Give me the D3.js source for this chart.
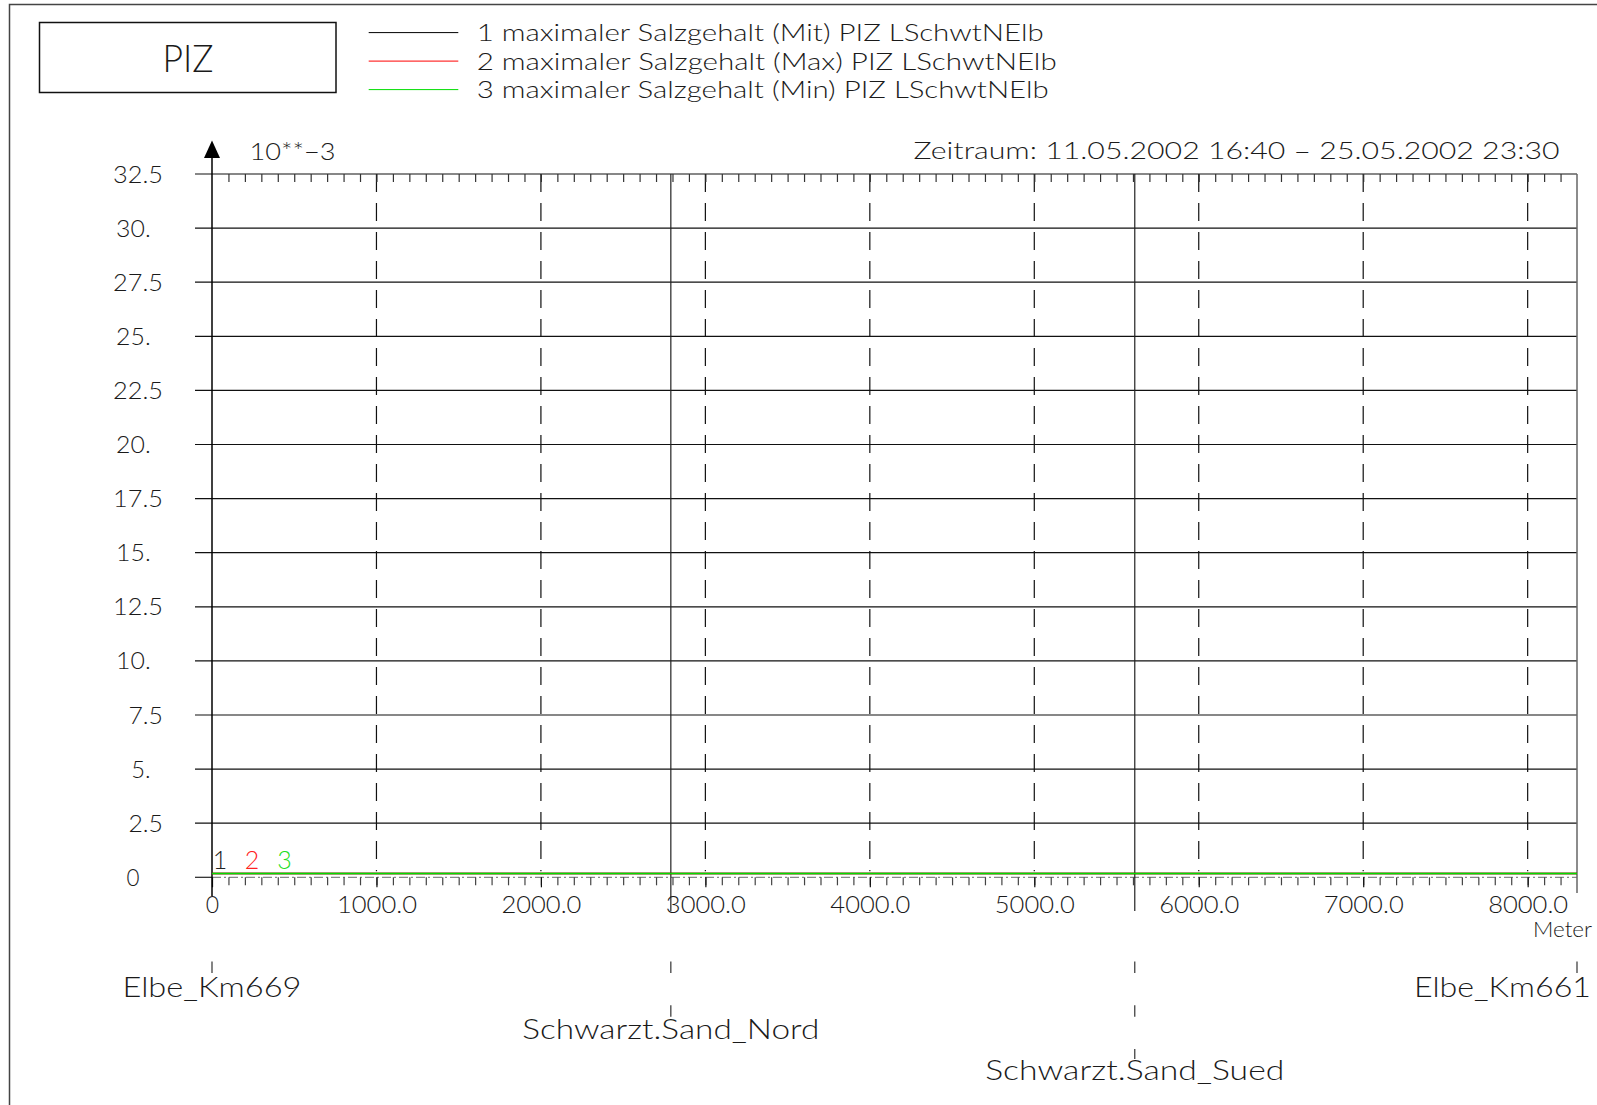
<!DOCTYPE html>
<html>
<head>
<meta charset="utf-8">
<script src="https://cdn.jsdelivr.net/npm/d3@7"></script>
<style>
  body { margin: 0; background: #fff; }
  text { font-family: "Lato", "DejaVu Sans", sans-serif; font-weight: 300; fill: #1a1a1a; }
</style>
</head>
<body>
<div id="wrapper"></div>
<script>
// Dados do grafico
const titulo = "PIZ";
const legendaTextos = [
  "1 maximaler Salzgehalt (Mit) PIZ LSchwtNElb",
  "2 maximaler Salzgehalt (Max) PIZ LSchwtNElb",
  "3 maximaler Salzgehalt (Min) PIZ LSchwtNElb"
];
const periodo = "Zeitraum: 11.05.2002 16:40 \u2013 25.05.2002 23:30";
const unidadeY = "10**\u22123";
const unidadeX = "Meter";

const estacoes = ["Elbe_Km669", "Schwarzt.Sand_Nord", "Schwarzt.Sand_Sued", "Elbe_Km661"];
const estacoesMetros = [0, 2790, 5611, 8300];

// valores (10**-3) nas estacoes
const serieMit = [0.18, 0.18, 0.18, 0.18];
const serieMax = [0.18, 0.18, 0.18, 0.18];
const serieMin = [0.18, 0.18, 0.18, 0.18];

const yTicks = [0, 2.5, 5, 7.5, 10, 12.5, 15, 17.5, 20, 22.5, 25, 27.5, 30, 32.5];
const yTickLabels = ["0", "2.5", "5.", "7.5", "10.", "12.5", "15.", "17.5", "20.", "22.5", "25.", "27.5", "30.", "32.5"];
const xTicks = [0, 1000, 2000, 3000, 4000, 5000, 6000, 7000, 8000];
const xTickLabels = ["0", "1000.0", "2000.0", "3000.0", "4000.0", "5000.0", "6000.0", "7000.0", "8000.0"];

function draw() {
  const cores = ["#000000", "#ff0000", "#00dd00"];
  const series = [serieMit, serieMax, serieMin];

  const dimensions = {
    width: 1597,
    height: 1105,
    plot: { left: 212, right: 1577, top: 174, bottom: 877.3 }
  };

  const wrapper = d3.select("#wrapper")
    .append("svg")
      .attr("width", dimensions.width)
      .attr("height", dimensions.height)
      .style("display", "block");

  // Escalas
  const x = d3.scaleLinear().domain([0, 8300]).range([dimensions.plot.left, dimensions.plot.right]);
  const y = d3.scaleLinear().domain([0, 32.5]).range([dimensions.plot.bottom, dimensions.plot.top]);

  // Moldura externa
  wrapper.append("rect")
    .attr("x", 9.5).attr("y", 4.5)
    .attr("width", 1700).attr("height", 1200)
    .attr("fill", "none").attr("stroke", "#444").attr("stroke-width", 1.5);

  // Caixa do titulo
  wrapper.append("rect")
    .attr("x", 39.5).attr("y", 22.5)
    .attr("width", 296.5).attr("height", 70)
    .attr("fill", "none").attr("stroke", "#111").attr("stroke-width", 1.5);
  wrapper.append("text")
    .attr("x", 188).attr("y", 72)
    .attr("text-anchor", "middle")
    .attr("font-size", 37)
    .attr("textLength", 51)
    .attr("lengthAdjust", "spacingAndGlyphs")
    .text(titulo);

  // Legenda
  const legendaLarguras = [567, 580, 572];
  legendaTextos.forEach((t, i) => {
    const ly = 32.6 + i * 28.5;
    wrapper.append("line")
      .attr("x1", 368.7).attr("x2", 458.3)
      .attr("y1", ly).attr("y2", ly)
      .attr("stroke", cores[i]).attr("stroke-width", 1);
    wrapper.append("text")
      .attr("x", 476.7).attr("y", ly + 8.5)
      .attr("font-size", 23)
      .attr("textLength", legendaLarguras[i])
      .attr("lengthAdjust", "spacingAndGlyphs")
      .text(t);
  });

  wrapper.append("text")
    .attr("x", 913.6).attr("y", 159)
    .attr("font-size", 23)
    .attr("textLength", 646)
    .attr("lengthAdjust", "spacingAndGlyphs")
    .text(periodo);

  wrapper.append("text")
    .attr("x", 249.5).attr("y", 160)
    .attr("font-size", 23)
    .attr("textLength", 86)
    .attr("lengthAdjust", "spacingAndGlyphs")
    .text(unidadeY);

  // Linhas horizontais da grade
  wrapper.append("g")
    .selectAll("line")
    .data(yTicks.filter(d => d > 0))
    .join("line")
      .attr("x1", 195).attr("x2", dimensions.plot.right)
      .attr("y1", d => y(d)).attr("y2", d => y(d))
      .attr("stroke", "#111").attr("stroke-width", 1.2);

  // linha zero (traco-ponto)
  wrapper.append("line")
    .attr("x1", 195).attr("x2", dimensions.plot.left)
    .attr("y1", y(0)).attr("y2", y(0))
    .attr("stroke", "#222").attr("stroke-width", 1.2);
  wrapper.append("line")
    .attr("x1", dimensions.plot.left).attr("x2", dimensions.plot.right)
    .attr("y1", y(0)).attr("y2", y(0))
    .attr("stroke", "#888").attr("stroke-width", 1.2)
    .attr("stroke-dasharray", "9,3,2,3");

  // Linhas verticais tracejadas
  wrapper.append("g")
    .selectAll("line")
    .data(xTicks.filter(d => d > 0))
    .join("line")
      .attr("x1", d => x(d)).attr("x2", d => x(d))
      .attr("y1", dimensions.plot.top).attr("y2", y(0) - 6)
      .attr("stroke", "#111").attr("stroke-width", 1.2)
      .attr("stroke-dasharray", "18,11");

  // Ticks menores (cima e baixo)
  const minorTicks = d3.range(100, 8300, 100);
  const axisTop = d3.axisBottom(x).tickValues(minorTicks).tickSize(8).tickFormat("");
  wrapper.append("g")
    .attr("transform", "translate(0," + dimensions.plot.top + ")")
    .call(axisTop)
    .call(g => g.select(".domain").remove())
    .call(g => g.selectAll(".tick line").attr("stroke", "#333").attr("stroke-width", 1.2));

  const axisBottomMinor = d3.axisBottom(x).tickValues(minorTicks).tickSize(8).tickFormat("");
  wrapper.append("g")
    .attr("transform", "translate(0," + y(0) + ")")
    .call(axisBottomMinor)
    .call(g => g.select(".domain").remove())
    .call(g => g.selectAll(".tick line").attr("stroke", "#444").attr("stroke-width", 1.2));

  // Ticks maiores e rotulos do eixo x
  const axisX = d3.axisBottom(x).tickValues(xTicks).tickSize(10).tickPadding(8)
    .tickFormat((d, i) => xTickLabels[i]);
  wrapper.append("g")
    .attr("transform", "translate(0," + y(0) + ")")
    .call(axisX)
    .call(g => g.select(".domain").remove())
    .call(g => g.selectAll(".tick line").attr("stroke", "#111").attr("stroke-width", 1.2))
    .call(g => g.selectAll(".tick text")
      .attr("y", null).attr("dy", null)
      .attr("transform", "translate(0,36)")
      .attr("font-family", null)
      .attr("font-size", 23)
      .attr("fill", "#1a1a1a")
      .attr("textLength", (d, i) => i === 0 ? null : 80)
      .attr("lengthAdjust", "spacingAndGlyphs"));

  wrapper.append("text")
    .attr("x", 1592).attr("y", 937)
    .attr("text-anchor", "end")
    .attr("font-size", 21)
    .attr("textLength", 59)
    .attr("lengthAdjust", "spacingAndGlyphs")
    .text(unidadeX);

  // Rotulos do eixo y
  const yLarguras = { 1: 13, 2: 19.4, 3: 34.6, 4: 50 };
  wrapper.append("g")
    .selectAll("text")
    .data(yTicks)
    .join("text")
      .attr("x", (d, i) => {
        const lab = yTickLabels[i];
        if (lab === "0") return 139.5;
        return lab.endsWith(".") ? 150.7 : 163;
      })
      .attr("y", d => y(d) + 8.5)
      .attr("text-anchor", "end")
      .attr("font-size", 23)
      .attr("textLength", (d, i) => yLarguras[yTickLabels[i].length])
      .attr("lengthAdjust", "spacingAndGlyphs")
      .text((d, i) => yTickLabels[i]);

  // Estacoes: linhas verticais solidas no grafico
  wrapper.append("g")
    .selectAll("line")
    .data(estacoesMetros.slice(1, 3))
    .join("line")
      .attr("x1", d => x(d)).attr("x2", d => x(d))
      .attr("y1", dimensions.plot.top).attr("y2", 911)
      .attr("stroke", "#222").attr("stroke-width", 1.2);

  // eixo y e borda direita
  wrapper.append("line")
    .attr("x1", x(0)).attr("x2", x(0))
    .attr("y1", 156).attr("y2", 896)
    .attr("stroke", "#000").attr("stroke-width", 1.5);
  wrapper.append("path")
    .attr("d", "M" + x(0) + ",140.5 L" + (x(0) - 8) + ",158 L" + (x(0) + 8) + ",158 Z")
    .attr("fill", "#000");
  wrapper.append("line")
    .attr("x1", x(8300)).attr("x2", x(8300))
    .attr("y1", dimensions.plot.top).attr("y2", 893)
    .attr("stroke", "#666").attr("stroke-width", 1.5);

  // Series
  const linha = d3.line().x((d, i) => x(estacoesMetros[i])).y(d => y(d));
  series.forEach((s, i) => {
    wrapper.append("path")
      .attr("d", linha(s))
      .attr("fill", "none")
      .attr("stroke", cores[i])
      .attr("stroke-width", 1.5);
  });
  const rotuloCores = ["#222222", "#ff2020", "#22dd22"];
  [220, 252, 284.5].forEach((px, i) => {
    wrapper.append("text")
      .attr("x", px).attr("y", 869)
      .attr("text-anchor", "middle")
      .attr("font-size", 25)
      .style("fill", rotuloCores[i])
      .text(String(i + 1));
  });

  // Estacoes: marcas e nomes abaixo do eixo
  const estBase = [997, 1039, 1080, 997];
  const estLarguras = [179, 297, 299, 177];
  estacoes.forEach((nome, i) => {
    const ex = x(estacoesMetros[i]);
    wrapper.append("line")
      .attr("x1", ex).attr("x2", ex)
      .attr("y1", 961.5).attr("y2", estBase[i] - 21)
      .attr("stroke", "#333").attr("stroke-width", 1.2)
      .attr("stroke-dasharray", "11.5,32.3");
    const ultimo = i === estacoes.length - 1;
    wrapper.append("text")
      .attr("x", ultimo ? 1591 : ex)
      .attr("y", estBase[i])
      .attr("text-anchor", ultimo ? "end" : "middle")
      .attr("font-size", 27)
      .attr("textLength", estLarguras[i])
      .attr("lengthAdjust", "spacingAndGlyphs")
      .text(nome);
  });
}
draw();
</script>
</body>
</html>
